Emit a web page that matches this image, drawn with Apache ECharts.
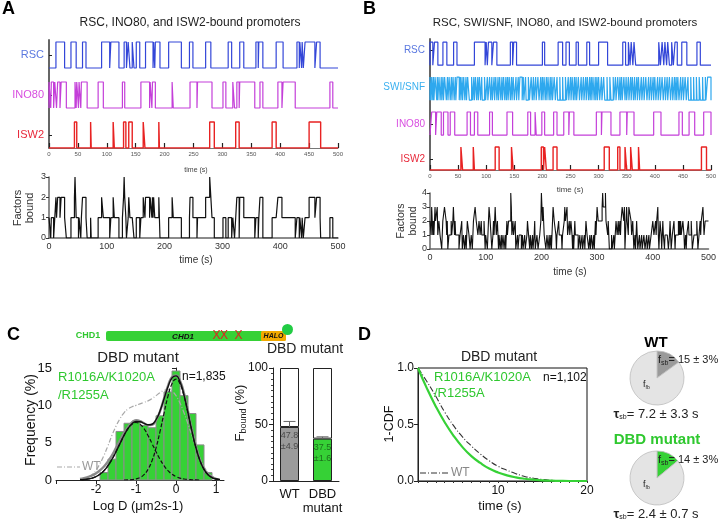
<!DOCTYPE html>
<html><head><meta charset="utf-8">
<script src="https://cdn.jsdelivr.net/npm/echarts@6/dist/echarts.min.js"></script>
<style>html,body{margin:0;padding:0;background:#fff}#c{width:719px;height:520px}</style>
</head><body><div id="c"></div><script>
// ---------------- DATA ----------------
// Panel A: bound intervals [start, end] in seconds
const rscA = [[12,27],[38,47],[58,64],[91,105],[107,121],[130,134],[137,140],[144,147],[151,157],[167,180],[181,183],[184,192],[207,229],[243,249],[271,280],[310,316],[330,337],[358,362],[363,370],[393,405],[429,433],[434,437],[438,440],[443,460],[463,469]];
const ino80A = [[0,3],[4,8],[10,13],[15,19],[21,30],[45,47],[48,51],[52,55],[56,66],[85,94],[127,131],[159,174],[175,178],[179,184],[213,215],[244,256],[257,282],[301,306],[318,321],[325,329],[330,356],[365,370],[396,403],[405,426],[486,491]];
const isw2A = [[44,48],[72,73],[111,113],[129,133],[138,144],[163,166],[190,191],[278,286],[323,329],[386,393],[450,470]];
// Panel B
const rscB = [[0,5],[8,14],[23,30],[42,48],[79,98],[100,102],[104,110],[113,119],[143,147],[149,154],[200,204],[228,236],[242,248],[260,264],[279,284],[300,316],[343,348],[353,356],[358,361],[363,366],[407,410],[413,416],[418,421],[423,426],[430,433],[436,440],[448,457],[475,481]];
const swisnfB = [[0,2],[3,5],[6,7],[9,12],[13,14],[16,18],[20,21],[23,24],[26,29],[31,32],[34,36],[38,39],
 [41,43],[45,46],[48,52],[54,55],[57,58],[60,62],[64,65],[67,70],[74,76],[78,79],
 [81,83],[85,86],[88,90],[92,93],[97,99],[102,103],[106,108],[110,111],[114,115],[117,119],
 [121,122],[124,126],[128,129],[131,133],[135,136],[138,139],[141,143],[145,146],[148,150],[153,154],[157,158],
 [160,164],[166,167],[170,171],[175,177],[180,182],[184,185],[188,189],[192,194],[197,198],
 [200,201],[203,205],[207,208],[210,212],[214,215],[217,218],[221,223],[226,227],[231,232],[236,237],
 [241,243],[246,247],[250,251],[253,255],[257,258],[260,261],[264,266],[269,270],[273,274],[277,278],
 [280,282],[284,285],[287,288],[290,292],[294,295],[297,298],[300,302],[305,306],[309,311],[315,316],
 [320,322],[326,327],[330,331],[334,336],[338,339],[341,342],[345,347],[349,350],[353,354],[357,358],
 [360,362],[364,365],[368,369],[371,373],[376,377],[380,381],[384,386],[389,390],[393,394],[397,398],
 [400,402],[405,406],[409,410],[413,415],[418,419],[422,423],[426,428],[431,432],[435,436],[438,439],
 [441,443],[446,447],[450,451],[454,456],[459,460],[464,465],[469,470],[474,475],[479,481],[485,486],[490,491],[494,500]];
const ino80B = [[3,10],[12,20],[24,32],[36,44],[66,72],[79,85],[106,111],[137,147],[174,179],[187,189],[199,204],[220,226],[238,247],[248,256],[296,305],[306,322],[338,350],[351,363],[398,411],[443,449],[461,471],[487,500]];
const isw2B = [[55,58],[77,79],[116,123],[145,148],[198,202],[204,207],[219,226],[310,319],[334,338],[347,350],[357,360],[371,373],[483,492]];

// Panel C histogram
const binEdges = [-1.9,-1.7,-1.5,-1.3,-1.1,-0.9,-0.7,-0.5,-0.3,-0.1,0.1,0.3,0.5,0.7,0.9];
const binFreq  = [1.0,2.8,6.5,7.6,7.9,7.3,7.0,8.6,11.8,14.6,11.3,8.9,4.7,1.0];
const curveX = [-2.4,-2.3,-2.2,-2.1,-2.0,-1.9,-1.8,-1.7,-1.6,-1.5,-1.4,-1.3,-1.2,-1.1,-1.0,-0.9,-0.8,-0.7,-0.6,-0.5,-0.4,-0.3,-0.2,-0.1,0.0,0.1,0.2,0.3,0.4,0.5,0.6,0.7,0.8,0.9,1.0,1.1];
const fitG1 = [0.03,0.06,0.13,0.25,0.45,0.78,1.25,1.92,2.78,3.79,4.89,5.97,6.88,7.48,7.70,7.48,6.88,5.97,4.89,3.79,2.78,1.92,1.25,0.78,0.45,0.25,0.13,0.06,0.03,0.01,0,null,null,null,null,null];
const fitG2 = [null,null,null,null,null,null,null,null,null,null,null,0,0.02,0.05,0.14,0.33,0.71,1.42,2.58,4.28,6.47,8.93,11.24,12.89,13.5,12.89,11.24,8.93,6.47,4.28,2.58,1.42,0.71,0.33,0.14,0.05];
const fitSum = [0.03,0.06,0.13,0.25,0.45,0.78,1.25,1.92,2.78,3.79,4.89,5.97,6.90,7.53,7.84,7.81,7.59,7.39,7.47,8.07,9.25,10.85,12.49,13.67,13.95,13.14,11.37,8.99,6.50,4.29,2.58,1.42,0.71,0.33,0.14,0.05];
const grayFit = [0.15,0.25,0.4,0.6,0.9,1.3,1.8,2.5,3.3,4.3,5.3,6.3,7.1,7.7,8.0,7.9,7.6,7.35,7.4,8.0,9.2,10.9,12.6,13.8,14.0,13.3,11.6,9.2,6.7,4.5,2.7,1.5,0.8,0.4,0.15,0.05];
const wtHist = [0.05,0.15,0.35,0.7,1.3,2.2,3.3,4.6,6.0,7.2,8.2,9.0,9.5,9.8,10.0,10.2,10.4,10.6,10.9,11.3,11.7,12.0,12.1,11.9,11.3,10.3,9.0,7.5,5.9,4.3,2.9,1.8,1.0,0.5,0.2,0.08];

// Panel C bound fraction
const barCats = ['WT', 'DBD\nmutant'];
const boundPct = [47.8, 37.5];
const boundErr = [4.9, 1.6];

// Panel D survival
const cdfT = [1,2,3,4,5,6,7,8,9,10,11,12,13,14,15,16,17,18,19,20];
const cdfDBD = [1.0,0.82,0.66,0.52,0.40,0.30,0.22,0.16,0.11,0.075,0.05,0.032,0.02,0.012,0.006,0.003,0.001,0,0,0];
const cdfWT  = [1.0,0.88,0.75,0.61,0.49,0.39,0.31,0.24,0.18,0.13,0.095,0.065,0.04,0.025,0.013,0.006,0.003,0.001,0,0];

// Pies: slow-bound fraction (%)
const sbPct = [15, 14];

// ---------------- HELPERS ----------------
const F = "'Liberation Sans', Arial, sans-serif";
// change points [t, value] for step:'end' lines
function stepData(iv, lo, hi){
  const d=[[0,lo]];
  for(const [s,e] of iv){ d.push([s,hi],[e,lo]); }
  d.push([500,lo]); return d;
}
function sumData(list){
  const pts=new Set([0,500]);
  list.forEach(iv=>iv.forEach(([s,e])=>{pts.add(s);pts.add(e);}));
  const t=[...pts].sort((a,b)=>a-b); const d=[]; let last=0;
  for(let i=0;i<t.length-1;i++){
    const m=(t[i]+t[i+1])/2; let c=0;
    list.forEach(iv=>{ if(iv.some(([s,e])=>m>s&&m<e)) c++; });
    d.push([t[i],c]); last=c;
  }
  d.push([500,last]);
  return d;
}
const zip = (xs, ys)=>xs.map((x,i)=>[x, ys[i]]);

const C = {rsc:'#3346d8', ino:'#c43fd9', isw:'#e82222', swi:'#2ea8ee', green:'#36d136', gtext:'#2fc82f'};
const rowA = [0.325,1.325,2.325], namesA=['ISW2','INO80','RSC'], colA=['#e8283a','#d84ee0','#5a78e0'];
const rowB = [0.3,1.31,2.37,3.42], namesB=['ISW2','INO80','SWI/SNF','RSC'], colB=['#e8283a','#d84ee0','#3ab0f0','#5a78e0'];
function rowAxis(grid, max, rows, names, cols, fs){
  const rich={}; cols.forEach((c,i)=>rich['c'+i]={color:c,fontSize:fs,fontFamily:F});
  return {gridIndex:grid,type:'value',min:0,max:max,
    axisLine:{show:true,lineStyle:{color:'#666',width:2}},
    axisTick:{show:true,inside:true,length:3,customValues:rows,lineStyle:{color:'#222'}},
    axisLabel:{customValues:rows,margin:5,formatter:(v)=>{const i=rows.findIndex(r=>Math.abs(r-v)<1e-6);return i<0?'':'{c'+i+'|'+names[i]+'}';},rich:rich},
    splitLine:{show:false}};
}
function timeAxisSmall(grid){
  return {gridIndex:grid,type:'value',min:0,max:500,interval:50,
    axisLine:{lineStyle:{color:'#777',width:1}},
    axisTick:{inside:true,length:5,lineStyle:{color:'#222',width:1.2}},
    axisLabel:{fontSize:6,color:'#555',margin:3,fontFamily:F},splitLine:{show:false}};
}
function timeAxisLow(grid){
  return {gridIndex:grid,type:'value',min:0,max:500,interval:100,
    axisLine:{lineStyle:{color:'#666',width:1.5}},axisTick:{show:false},
    axisLabel:{fontSize:9,color:'#333',margin:4,fontFamily:F},splitLine:{show:false}};
}
function countAxis(grid,max){
  return {gridIndex:grid,type:'value',min:0,max:max,interval:1,
    axisLine:{show:true,lineStyle:{color:'#666',width:1.5}},
    axisTick:{show:true,length:3,lineStyle:{color:'#333'}},
    axisLabel:{fontSize:9,color:'#333',margin:3,fontFamily:F},splitLine:{show:false}};
}
function T(x,y,text,o){
  o=o||{};
  const st={text:text,fill:o.color||'#222',fontSize:o.size||12,fontFamily:F,
    fontWeight:o.bold?'bold':'normal',fontStyle:o.italic?'italic':'normal',
    align:o.align||'center',verticalAlign:o.va||'middle'};
  if(o.rich) st.rich=o.rich;
  if(o.lh) st.lineHeight=o.lh;
  return {type:'text',x:x,y:y,rotation:o.rot||0,z:100,style:st};
}
function stepSeries(data,color,xi,yi,w){
  return {type:'line',xAxisIndex:xi,yAxisIndex:yi,data:data,step:'end',symbol:'none',
    lineStyle:{color:color,width:w||1.2},silent:true,animation:false};
}
const subRich = (c)=>({f:{fontSize:11,fontFamily:F,color:c},s:{fontSize:7,fontFamily:F,color:c,padding:[6,0,0,0]},n:{fontSize:11,fontFamily:F,color:c}});
const tauRich = {f:{fontSize:13,fontFamily:F,color:'#222',fontWeight:'bold'},s:{fontSize:7,fontFamily:F,color:'#222',padding:[7,0,0,0]},n:{fontSize:13,fontFamily:F,color:'#222'}};
const fbRich = {f:{fontSize:9,fontFamily:F,color:'#333'},s:{fontSize:5,fontFamily:F,color:'#333',padding:[5,0,0,0]}};

// ---------------- OPTION ----------------
const option = {
  animation:false,
  backgroundColor:'#fff',
  grid:[
    {left:49,top:40,width:289,height:108},
    {left:49,top:177,width:289,height:61},
    {left:430,top:39,width:282,height:131},
    {left:430,top:193,width:283,height:56},
    {left:56,top:368,width:168,height:112},
    {left:273,top:368,width:66,height:113},
    {left:418,top:368,width:169,height:113,show:true,borderColor:'#111',borderWidth:1,backgroundColor:'transparent'}
  ],
  xAxis:[
    timeAxisSmall(0),
    timeAxisLow(1),
    timeAxisSmall(2),
    timeAxisLow(3),
    {gridIndex:4,type:'value',min:-3,max:1.2,interval:1,
      axisLine:{lineStyle:{color:'#222',width:1}},axisTick:{length:4,lineStyle:{color:'#222'}},
      axisLabel:{fontSize:12,color:'#111',margin:4,fontFamily:F,showMaxLabel:false,
        formatter:(v)=>(v<=-3||Math.abs(v-Math.round(v))>1e-6)?'':String(v)},splitLine:{show:false}},
    {gridIndex:5,type:'category',data:barCats,
      axisLine:{lineStyle:{color:'#222',width:1}},axisTick:{show:false},
      axisLabel:{interval:0,fontSize:13,color:'#111',margin:6,lineHeight:14,fontFamily:F}},
    {gridIndex:6,type:'value',min:1,max:20,interval:1,
      axisLine:{lineStyle:{color:'#222',width:1}},axisTick:{length:2,lineStyle:{color:'#333'}},
      axisLabel:{fontSize:12,color:'#111',margin:4,fontFamily:F,showMinLabel:true,
        formatter:(v)=>(v===10||v===20)?String(v):''},splitLine:{show:false}}
  ],
  yAxis:[
    rowAxis(0,2.7,rowA,namesA,colA,11),
    countAxis(1,3),
    rowAxis(2,3.75,rowB,namesB,colB,10),
    countAxis(3,4),
    {gridIndex:4,type:'value',min:0,max:15,interval:5,
      axisLine:{show:true,lineStyle:{color:'#222',width:1}},axisTick:{show:true,length:4,lineStyle:{color:'#222'}},
      axisLabel:{fontSize:13,color:'#111',margin:4,fontFamily:F},splitLine:{show:false}},
    {gridIndex:5,type:'value',min:0,max:100,interval:50,
      axisLine:{show:true,lineStyle:{color:'#222',width:1}},axisTick:{show:true,length:4,lineStyle:{color:'#222'}},
      minorTick:{show:true,splitNumber:10,length:2,lineStyle:{color:'#444'}},
      axisLabel:{fontSize:12,color:'#111',margin:5,fontFamily:F},splitLine:{show:false}},
    {gridIndex:6,type:'value',min:0,max:1,interval:0.5,
      axisLine:{show:true,lineStyle:{color:'#222',width:1}},axisTick:{show:true,length:4,lineStyle:{color:'#222'}},
      axisLabel:{fontSize:12,color:'#111',margin:4,fontFamily:F,formatter:(v)=>v.toFixed(1)},splitLine:{show:false}}
  ],
  series:[
    stepSeries(stepData(rscA,2,2.65),C.rsc,0,0),
    stepSeries(stepData(ino80A,1,1.65),C.ino,0,0),
    stepSeries(stepData(isw2A,0,0.65),C.isw,0,0,1.4),
    stepSeries(sumData([rscA,ino80A,isw2A]),'#111',1,1,1.2),
    stepSeries(stepData(rscB,3,3.66),C.rsc,2,2),
    stepSeries(stepData(swisnfB,2,2.66),C.swi,2,2),
    stepSeries(stepData(ino80B,1,1.66),C.ino,2,2),
    stepSeries(stepData(isw2B,0,0.66),C.isw,2,2,1.4),
    stepSeries(sumData([rscB,swisnfB,ino80B,isw2B]),'#111',3,3,1.1),
    // histogram
    {type:'custom',xAxisIndex:4,yAxisIndex:4,silent:true,
      data:binFreq.map((f,i)=>[binEdges[i],binEdges[i+1],f]),
      encode:{x:[0,1],y:2},
      renderItem:(p,api)=>{const a=api.coord([api.value(0),api.value(2)]);const b=api.coord([api.value(1),0]);
        return {type:'rect',shape:{x:a[0],y:a[1],width:b[0]-a[0],height:b[1]-a[1]},style:{fill:C.green,stroke:'#8c8c8c',lineWidth:1}};}},
    {type:'line',xAxisIndex:4,yAxisIndex:4,data:zip(curveX,wtHist),smooth:true,symbol:'none',silent:true,
      lineStyle:{color:'#a8a8a8',width:1.2,type:[5,2,1,2]}},
    {type:'line',xAxisIndex:4,yAxisIndex:4,data:zip(curveX,grayFit),smooth:true,symbol:'none',silent:true,
      lineStyle:{color:'#8a8a8a',width:2.4}},
    {type:'line',xAxisIndex:4,yAxisIndex:4,data:zip(curveX,fitSum),smooth:true,symbol:'none',silent:true,
      lineStyle:{color:'#111',width:1.4}},
    {type:'line',xAxisIndex:4,yAxisIndex:4,data:zip(curveX,fitG1),smooth:true,symbol:'none',silent:true,connectNulls:false,
      lineStyle:{color:'#111',width:1.2,type:[4,2]}},
    {type:'line',xAxisIndex:4,yAxisIndex:4,data:zip(curveX,fitG2),smooth:true,symbol:'none',silent:true,connectNulls:false,
      lineStyle:{color:'#111',width:1.2,type:[4,2]}},
    // bound fraction bars
    {type:'bar',xAxisIndex:5,yAxisIndex:5,stack:'fb',barWidth:19,silent:true,
      data:boundPct.map((v,i)=>({value:v,itemStyle:{color:i===0?'#9b9b9b':C.green},
        label:{color:i===0?'#4a4a4a':'#1e6e1e'}})),
      itemStyle:{borderColor:'#222',borderWidth:1},
      label:{show:true,position:'insideTop',distance:3,fontSize:9,lineHeight:11,fontFamily:F,
        formatter:(p)=>p.value.toFixed(1)+'\n±'+boundErr[p.dataIndex].toFixed(1)}},
    {type:'bar',xAxisIndex:5,yAxisIndex:5,stack:'fb',barWidth:19,silent:true,
      data:boundPct.map(v=>+(100-v).toFixed(1)),itemStyle:{color:'#fff',borderColor:'#222',borderWidth:1}},
    {type:'custom',xAxisIndex:5,yAxisIndex:5,z:10,silent:true,
      data:boundPct.map((v,i)=>[i,v,boundErr[i]]),encode:{x:0,y:1},
      renderItem:(p,api)=>{const b=api.coord([api.value(0),api.value(1)]);const t=api.coord([api.value(0),api.value(1)+api.value(2)]);
        return {type:'group',children:[
          {type:'line',shape:{x1:b[0],y1:b[1],x2:t[0],y2:t[1]},style:{stroke:'#666',lineWidth:1}},
          {type:'line',shape:{x1:t[0]-6,y1:t[1],x2:t[0]+6,y2:t[1]},style:{stroke:'#666',lineWidth:1}}]};}},
    // survival curves
    {type:'line',xAxisIndex:6,yAxisIndex:6,data:zip(cdfT,cdfWT),smooth:true,symbol:'none',silent:true,
      lineStyle:{color:'#333',width:1.1,type:[6,2,1,2]}},
    {type:'line',xAxisIndex:6,yAxisIndex:6,data:zip(cdfT,cdfDBD),smooth:true,symbol:'none',silent:true,
      lineStyle:{color:C.green,width:2.2}},
    // pies
    {type:'pie',center:[657,378],radius:27,startAngle:90,clockwise:true,silent:true,animation:false,
      label:{show:false},labelLine:{show:false},emphasis:{disabled:true},
      itemStyle:{borderColor:'#bdbdbd',borderWidth:0.8},
      data:[{value:sbPct[0],itemStyle:{color:'#9a9a9a'}},{value:100-sbPct[0],itemStyle:{color:'#e4e4e4'}}]},
    {type:'pie',center:[657,478],radius:27,startAngle:90,clockwise:true,silent:true,animation:false,
      label:{show:false},labelLine:{show:false},emphasis:{disabled:true},
      itemStyle:{borderColor:'#bdbdbd',borderWidth:0.8},
      data:[{value:sbPct[1],itemStyle:{color:C.green}},{value:100-sbPct[1],itemStyle:{color:'#e4e4e4'}}]}
  ],
  graphic:[
    // panel letters
    T(2,9,'A',{size:18,bold:true,align:'left',color:'#000'}),
    T(363,9,'B',{size:18,bold:true,align:'left',color:'#000'}),
    T(7,335,'C',{size:18,bold:true,align:'left',color:'#000'}),
    T(358,335,'D',{size:18,bold:true,align:'left',color:'#000'}),
    // A
    T(190,23,'RSC, INO80, and ISW2-bound promoters',{size:12}),
    T(196,170,'time (s)',{size:7,color:'#444'}),
    T(196,260,'time (s)',{size:10,color:'#333'}),
    T(24,208,'Factors\nbound',{size:11,rot:Math.PI/2,lh:12,color:'#333'}),
    // B
    T(565,23,'RSC, SWI/SNF, INO80, and ISW2-bound promoters',{size:11.5}),
    T(570,190,'time (s)',{size:8,color:'#444'}),
    T(570,272,'time (s)',{size:10,color:'#333'}),
    T(407,221,'Factors\nbound',{size:10.5,rot:Math.PI/2,lh:12,color:'#333'}),
    // C construct
    {type:'rect',shape:{x:106,y:331,width:157,height:10,r:2},style:{fill:C.green},z:90},
    {type:'rect',shape:{x:261,y:331,width:25,height:10,r:1.5},style:{fill:'#f2a900'},z:91},
    {type:'circle',shape:{cx:287.5,cy:329.5,r:5.5},style:{fill:'#22cc44'},z:92},
    T(88,336,'CHD1',{size:9,bold:true,color:C.gtext}),
    T(183,336.5,'CHD1',{size:8,bold:true,italic:true,color:'#111'}),
    T(216.5,336,'X',{size:12,color:'#e02020'}),
    T(224,336,'X',{size:12,color:'#e02020'}),
    T(238.5,336,'X',{size:12,color:'#e02020'}),
    T(273.5,336.5,'HALO',{size:7,bold:true,italic:true,color:'#111'}),
    // C histogram texts
    T(138,358,'DBD mutant',{size:15}),
    T(58,377,'R1016A/K1020A',{size:13,align:'left',color:C.gtext}),
    T(58,395,'/R1255A',{size:13,align:'left',color:C.gtext}),
    T(182,377,'n=1,835',{size:12,align:'left',color:'#111'}),
    {type:'line',shape:{x1:57,y1:467,x2:80,y2:467},style:{stroke:'#a8a8a8',lineWidth:1.1,lineDash:[5,2,1,2]},z:95},
    T(82,467,'WT',{size:12,align:'left',color:'#9a9a9a'}),
    T(31,420,'Frequency (%)',{size:14,rot:Math.PI/2,color:'#111'}),
    T(138,506,'Log D (\u03bcm2s-1)',{size:13,color:'#111'}),
    // C bar texts
    T(305,349,'DBD mutant',{size:14}),
    T(240,413,'{f|F}{s|bound}{f| (%)}',{rot:Math.PI/2,rich:{f:{fontSize:13,fontFamily:F,color:'#111'},s:{fontSize:9,fontFamily:F,color:'#111',padding:[7,0,0,0]}}}),
    // D texts
    T(499,357,'DBD mutant',{size:14}),
    T(434,377,'R1016A/K1020A',{size:13,align:'left',color:C.gtext}),
    T(434,393,'/R1255A',{size:13,align:'left',color:C.gtext}),
    T(543,378,'n=1,102',{size:12,align:'left',color:'#111'}),
    {type:'line',shape:{x1:420,y1:473,x2:448,y2:473},style:{stroke:'#333',lineWidth:1,lineDash:[6,2,1,2]},z:95},
    T(451,473,'WT',{size:12,align:'left',color:'#888'}),
    T(390,424,'1-CDF',{size:12.5,rot:Math.PI/2,color:'#111'}),
    T(500,506,'time (s)',{size:13,color:'#111'}),
    // pies texts
    T(656,343,'WT',{size:15,bold:true,color:'#000'}),
    T(658,360,'{f|f}{s|sb}{n|= 15 \u00b1 3%}',{align:'left',rich:subRich('#222')}),
    T(643,385,'{f|f}{s|fb}',{align:'left',rich:fbRich}),
    T(656,414,'{f|\u03c4}{s|sb}{n|= 7.2 \u00b1 3.3 s}',{rich:tauRich}),
    T(657,440,'DBD mutant',{size:15,bold:true,color:C.gtext}),
    T(658,460,'{f|f}{s|sb}{n|= 14 \u00b1 3%}',{align:'left',rich:subRich('#222')}),
    T(643,485,'{f|f}{s|fb}',{align:'left',rich:fbRich}),
    T(656,514,'{f|\u03c4}{s|sb}{n|= 2.4 \u00b1 0.7 s}',{rich:tauRich})
  ]
};
const chart = echarts.init(document.getElementById('c'),null,{renderer:'canvas'});
chart.setOption(option);
</script></body></html>
